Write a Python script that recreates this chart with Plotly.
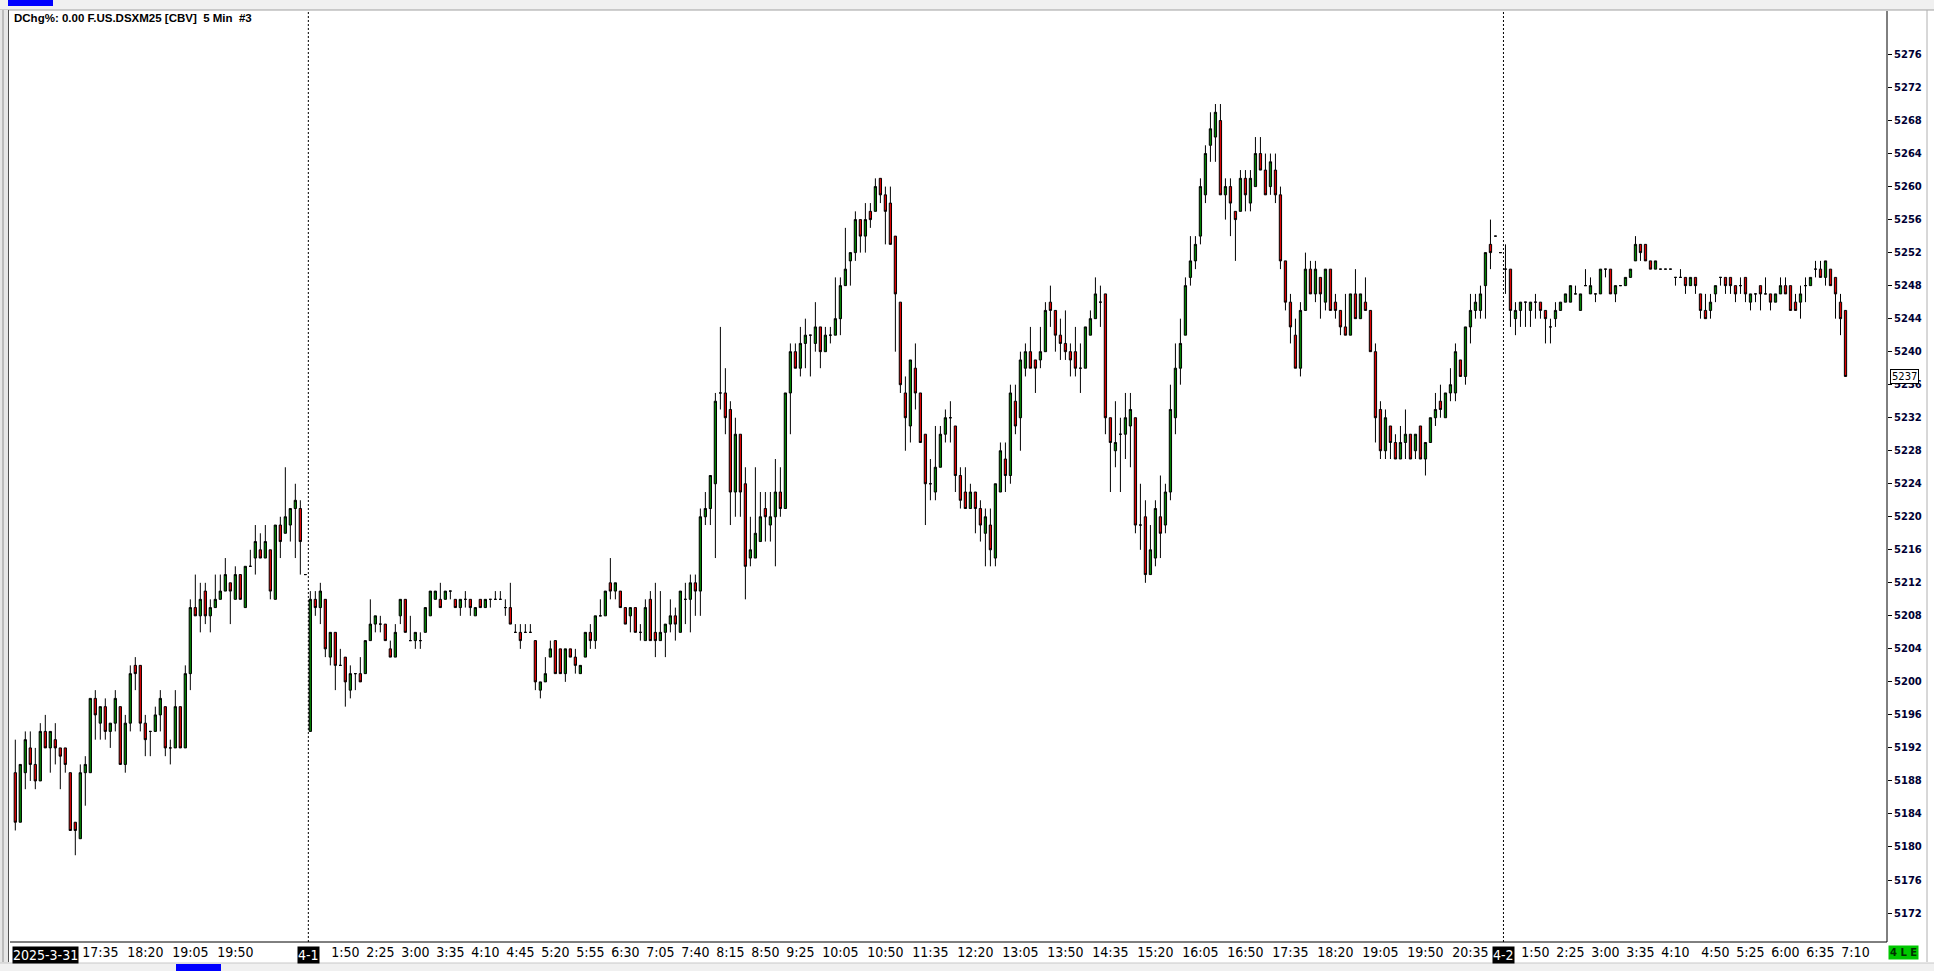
import plotly.graph_objects as go

# ---------------- data (5-min bars, F.US.DSXM25) ----------------
opens = [
 5189,5183,5189,5192,5190,5188,5194,5192,5193,5192,5192,5189,5183,5181,5189,5189,5198,5195,5197,5194,
 5195,5197,5190,5195,5202,5202,5195,5194,5194,5196,5197,5192,5192,5197,5192,5201,5209,5208,5211,5208,
 5209,5210,5211,5212,5210,5213,5209,5214,5215,5216,5215,5216,5210,5219,5218,5219,5221,5221,5213,
 # 4-1
 5194,5210,5209,5210,5203,5206,5202,5203,5199,5201,5201,5201,5205,5207,5207,5207,5204,5203,5208,5210,
 5205,5205,5205,5206,5208,5210,5210,5210,5211,5210,5209,5210,5210,5208,5210,5209,5210,5210,5210,5209,
 5209,5206,5206,5206,5206,5205,5199,5200,5203,5205,5204,5201,5204,5203,5201,5203,5206,5205,5208,5208,
 5212,5211,5211,5209,5208,5209,5206,5205,5210,5206,5205,5206,5207,5208,5206,5210,5210,5212,5211,5220,
 5221,5224,5235,5235,5233,5223,5230,5224,5215,5215,5217,5221,5219,5220,5223,5221,5235,5240,5238,5241,
 5242,5241,5243,5240,5242,5242,5244,5248,5251,5252,5256,5254,5257,5257,5261,5259,5258,5254,5246,5235,
 5231,5238,5235,5230,5224,5223,5226,5230,5232,5231,5225,5223,5221,5223,5221,5218,5219,5215,5223,5227,
 5225,5234,5232,5238,5240,5239,5239,5240,5246,5245,5242,5241,5240,5240,5238,5238,5242,5244,5246,5247,
 5232,5228,5230,5230,5231,5232,5219,5220,5213,5215,5220,5219,5223,5232,5238,5242,5249,5251,5254,5259,
 5265,5266,5268,5259,5260,5257,5257,5261,5258,5260,5264,5262,5260,5262,5259,5251,5246,5242,5238,5245,
 5250,5247,5249,5246,5250,5246,5245,5243,5242,5247,5244,5246,5245,5240,5233,5228,5231,5229,5227,5229,
 5230,5228,5231,5227,5229,5232,5234,5232,5235,5235,5239,5237,5243,5245,5245,5248,5253,5254,5252,
 # 4-2
 5250,5250,5244,5245,5246,5245,5246,5246,5245,5243,5244,5245,5246,5246,5247,5245,5248,5247,5247,5247,
 5250,5250,5247,5248,5248,5249,5251,5253,5253,5251,5250,5250,5250,5250,5249,5249,5249,5248,5249,5247,
 5245,5245,5247,5249,5249,5249,5248,5248,5249,5246,5247,5248,5247,5247,5246,5247,5248,5248,5246,5246,
 5248,5248,5250,5250,5249,5250,5249,5246,5245,
]
highs = [
 5193,5190,5194,5194,5192,5195,5196,5194,5195,5192,5192,5189,5183,5190,5191,5198,5199,5197,5198,5195,
 5199,5197,5196,5202,5203,5202,5196,5194,5197,5199,5197,5193,5199,5197,5202,5210,5213,5212,5212,5210,
 5213,5213,5215,5212,5214,5213,5214,5216,5219,5218,5219,5216,5219,5220,5226,5221,5224,5222,5213,
 # 4-1
 5211,5211,5212,5210,5206,5206,5204,5203,5202,5201,5203,5205,5210,5208,5208,5207,5205,5207,5210,5210,
 5208,5206,5206,5209,5211,5211,5212,5211,5211,5210,5210,5211,5210,5209,5210,5210,5210,5211,5211,5210,
 5212,5207,5207,5207,5207,5205,5200,5203,5205,5205,5204,5204,5204,5204,5202,5206,5207,5208,5210,5211,
 5215,5212,5211,5209,5209,5209,5207,5210,5211,5212,5211,5207,5210,5209,5211,5212,5213,5213,5221,5223,
 5225,5235,5243,5238,5234,5232,5230,5226,5220,5226,5223,5223,5223,5227,5226,5235,5241,5241,5243,5244,
 5242,5246,5243,5243,5243,5249,5249,5255,5252,5257,5256,5258,5258,5261,5261,5260,5260,5254,5246,5237,
 5239,5241,5235,5230,5227,5231,5231,5233,5234,5231,5226,5226,5224,5223,5222,5221,5221,5224,5229,5229,
 5236,5236,5240,5241,5243,5239,5243,5246,5248,5245,5244,5245,5241,5243,5241,5243,5245,5249,5248,5247,
 5232,5234,5232,5235,5235,5232,5224,5222,5219,5222,5225,5224,5236,5241,5244,5249,5254,5254,5261,5265,
 5269,5270,5270,5261,5261,5257,5262,5262,5262,5266,5266,5264,5264,5264,5260,5251,5247,5244,5246,5252,
 5251,5251,5249,5250,5250,5247,5245,5247,5247,5250,5247,5249,5245,5241,5234,5233,5231,5230,5231,5233,
 5230,5230,5231,5229,5232,5235,5236,5235,5238,5241,5239,5243,5247,5247,5248,5252,5256,5254,5252,
 # 4-2
 5253,5250,5246,5246,5246,5246,5247,5246,5245,5244,5246,5246,5247,5248,5248,5247,5250,5249,5247,5250,
 5250,5250,5248,5248,5249,5250,5254,5253,5253,5251,5251,5250,5250,5250,5249,5250,5249,5249,5249,5247,
 5247,5247,5248,5249,5249,5249,5248,5249,5249,5247,5247,5248,5249,5247,5247,5249,5249,5248,5247,5248,
 5249,5249,5251,5251,5251,5250,5249,5247,5245,
]
lows = [
 5182,5183,5187,5188,5187,5188,5192,5189,5190,5187,5189,5182,5179,5181,5185,5189,5193,5193,5193,5192,
 5194,5190,5189,5194,5199,5194,5191,5191,5194,5194,5191,5190,5192,5192,5192,5199,5208,5206,5207,5206,
 5209,5210,5211,5207,5210,5210,5209,5214,5213,5215,5215,5210,5210,5215,5218,5217,5215,5213,5213,
 # 4-1
 5194,5208,5207,5203,5202,5199,5202,5197,5198,5199,5200,5201,5205,5206,5206,5205,5203,5203,5207,5206,
 5205,5204,5204,5206,5208,5210,5209,5210,5210,5209,5208,5209,5208,5208,5209,5209,5209,5210,5210,5208,
 5207,5206,5204,5206,5206,5199,5198,5200,5203,5201,5201,5200,5203,5201,5201,5203,5204,5204,5208,5208,
 5210,5210,5209,5207,5206,5206,5205,5205,5205,5203,5205,5203,5206,5205,5206,5207,5206,5208,5208,5219,
 5219,5215,5233,5230,5219,5220,5220,5210,5214,5215,5217,5217,5217,5214,5220,5221,5230,5238,5237,5238,
 5237,5240,5238,5240,5241,5242,5242,5248,5248,5251,5252,5252,5255,5257,5258,5253,5253,5240,5235,5228,
 5229,5233,5229,5219,5222,5222,5226,5229,5229,5223,5221,5221,5221,5218,5217,5214,5214,5214,5223,5223,
 5224,5230,5228,5237,5238,5235,5238,5240,5243,5240,5239,5239,5237,5237,5235,5238,5242,5244,5243,5230,
 5223,5226,5223,5227,5226,5218,5216,5212,5213,5214,5215,5218,5222,5230,5236,5242,5248,5250,5253,5258,
 5263,5263,5259,5256,5254,5251,5257,5257,5257,5260,5262,5259,5259,5258,5250,5245,5241,5238,5237,5245,
 5247,5246,5244,5245,5245,5244,5242,5242,5242,5244,5244,5245,5240,5229,5227,5227,5227,5227,5227,5227,
 5227,5227,5227,5225,5229,5231,5232,5232,5234,5234,5237,5236,5241,5244,5244,5244,5250,5254,5252,
 # 4-2
 5247,5243,5242,5243,5243,5243,5244,5244,5241,5241,5243,5245,5246,5246,5247,5245,5248,5247,5246,5247,
 5249,5247,5246,5248,5248,5249,5251,5251,5251,5250,5250,5250,5250,5250,5248,5249,5247,5248,5247,5244,
 5244,5244,5246,5248,5247,5247,5246,5247,5246,5245,5246,5245,5247,5245,5246,5247,5247,5245,5245,5244,
 5246,5248,5249,5249,5248,5248,5244,5242,5237,
]
closes = [
 5183,5190,5193,5190,5188,5194,5192,5194,5192,5191,5190,5182,5182,5189,5190,5198,5196,5197,5194,5195,
 5198,5190,5195,5201,5201,5195,5193,5194,5196,5198,5192,5192,5197,5192,5201,5209,5208,5210,5208,5209,
 5210,5211,5213,5211,5213,5210,5214,5214,5217,5215,5217,5211,5219,5217,5220,5221,5222,5217,5213,
 # 4-1
 5210,5209,5211,5204,5206,5202,5202,5200,5201,5201,5200,5205,5207,5208,5207,5205,5203,5206,5210,5206,
 5205,5206,5205,5209,5211,5211,5209,5211,5211,5209,5210,5210,5209,5209,5209,5210,5210,5210,5210,5209,
 5207,5206,5205,5206,5206,5200,5200,5201,5204,5201,5201,5204,5203,5202,5202,5206,5205,5208,5208,5211,
 5211,5212,5209,5207,5209,5206,5206,5209,5205,5205,5206,5207,5208,5207,5211,5210,5212,5211,5220,5221,
 5225,5234,5235,5232,5223,5230,5223,5214,5216,5218,5220,5220,5220,5223,5221,5235,5240,5238,5241,5242,
 5242,5243,5240,5242,5242,5244,5248,5250,5252,5256,5254,5256,5256,5260,5259,5257,5253,5247,5236,5232,
 5239,5235,5229,5224,5224,5226,5230,5232,5232,5225,5222,5221,5223,5221,5219,5220,5216,5224,5228,5225,
 5235,5231,5239,5240,5238,5238,5240,5245,5245,5242,5241,5240,5239,5238,5238,5243,5244,5247,5246,5232,
 5229,5229,5230,5232,5233,5219,5219,5213,5216,5221,5218,5223,5233,5238,5241,5248,5251,5253,5260,5264,
 5267,5269,5259,5260,5258,5256,5261,5259,5261,5264,5262,5259,5263,5259,5251,5246,5243,5238,5245,5250,
 5247,5250,5247,5250,5245,5245,5243,5242,5247,5244,5247,5245,5240,5232,5228,5232,5229,5227,5229,5230,
 5227,5230,5227,5229,5232,5233,5233,5235,5236,5240,5237,5243,5245,5246,5247,5252,5252,5254,5252,
 # 4-2
 5250,5245,5245,5246,5246,5246,5246,5245,5244,5243,5245,5246,5247,5248,5247,5247,5248,5248,5247,5250,
 5250,5247,5248,5248,5249,5250,5253,5252,5251,5250,5251,5250,5250,5250,5249,5249,5248,5249,5248,5245,
 5244,5246,5248,5249,5248,5248,5247,5248,5247,5247,5247,5247,5247,5246,5247,5248,5247,5245,5245,5247,
 5248,5249,5250,5249,5251,5248,5247,5244,5237,
]
bar_index = list(range(len(opens)))

# time-axis labels (bar number -> label)
tick_bars = [17, 26, 35, 44,
             66, 73, 80, 87, 94, 101, 108, 115, 122, 129, 136, 143, 150, 157, 165, 174, 183,
             192, 201, 210, 219, 228, 237, 246, 255, 264, 273, 282, 291,
             304, 311, 318, 325, 332, 340, 347, 354, 361, 368]
tick_labels = ["17:35", "18:20", "19:05", "19:50",
               "1:50", "2:25", "3:00", "3:35", "4:10", "4:45", "5:20", "5:55", "6:30", "7:05", "7:40",
               "8:15", "8:50", "9:25", "10:05", "10:50", "11:35",
               "12:20", "13:05", "13:50", "14:35", "15:20", "16:05", "16:50", "17:35", "18:20", "19:05",
               "19:50", "20:35",
               "1:50", "2:25", "3:00", "3:35", "4:10", "4:50", "5:25", "6:00", "6:35", "7:10"]

first_date = "2025-3-31"
session_breaks = [58.6, 297.6]
session_dates = ["4-1", "4-2"]

price_ticks = list(range(5172, 5277, 4))
last_price = closes[-1]
title_text = "DChg%: 0.00 F.US.DSXM25 [CBV]  5 Min  #3"

# ---------------- figure ----------------
W, H = 1934, 971
ML, MR, MT, MB = 10, 47, 11, 29
PW, PH = W - ML - MR, H - MT - MB

def px(xp):  # pixel x -> paper
    return (xp - ML) / PW

def py(yp):  # pixel y -> paper
    return (H - MB - yp) / PH

narrow = "Liberation Sans Narrow, DejaVu Sans Condensed, Arial Narrow, sans-serif"

fig = go.Figure()
fig.add_trace(go.Candlestick(
    x=bar_index, open=opens, high=highs, low=lows, close=closes,
    increasing=dict(line=dict(color="black", width=1), fillcolor="#008000"),
    decreasing=dict(line=dict(color="black", width=1), fillcolor="#dd0000"),
    whiskerwidth=0, hoverinfo="x+y", showlegend=False,
))

shapes = []
for xb in session_breaks:
    shapes.append(dict(type="line", xref="x", yref="paper", x0=xb, x1=xb, y0=0, y1=1,
                       line=dict(color="black", width=1, dash="2px,2px")))
# window chrome
chrome_gray = "#f0f0f0"
shapes += [
    dict(type="rect", xref="paper", yref="paper", x0=px(0), x1=px(W), y0=py(0), y1=py(10),
         fillcolor=chrome_gray, line=dict(width=0), layer="below"),
    dict(type="line", xref="paper", yref="paper", x0=px(0), x1=px(W), y0=py(10), y1=py(10),
         line=dict(color="#a0a0a0", width=1)),
    dict(type="rect", xref="paper", yref="paper", x0=px(8), x1=px(53), y0=py(0), y1=py(6),
         fillcolor="#0000ff", line=dict(width=0)),
    dict(type="rect", xref="paper", yref="paper", x0=px(0), x1=px(9), y0=py(10), y1=py(H),
         fillcolor="#e6e6e6", line=dict(width=0)),
    dict(type="line", xref="paper", yref="paper", x0=px(3), x1=px(3), y0=py(10), y1=py(962),
         line=dict(color="#909090", width=1)),
    dict(type="line", xref="paper", yref="paper", x0=px(8.5), x1=px(8.5), y0=py(10), y1=py(962),
         line=dict(color="#505050", width=1)),
    dict(type="rect", xref="paper", yref="paper", x0=px(0), x1=px(W), y0=py(963), y1=py(H),
         fillcolor=chrome_gray, line=dict(width=0)),
    dict(type="line", xref="paper", yref="paper", x0=px(0), x1=px(W), y0=py(963), y1=py(963),
         line=dict(color="#c8c8c8", width=1)),
    dict(type="rect", xref="paper", yref="paper", x0=px(176), x1=px(221), y0=py(964), y1=py(H),
         fillcolor="#0000ff", line=dict(width=0)),
    dict(type="line", xref="paper", yref="paper", x0=px(1927), x1=px(1927), y0=py(10), y1=py(962),
         line=dict(color="#b0b0b0", width=1)),
    dict(type="line", xref="paper", yref="paper", x0=1, x1=1, y0=0, y1=1,
         line=dict(color="black", width=1)),
    dict(type="line", xref="paper", yref="paper", x0=0, x1=1, y0=0, y1=0,
         line=dict(color="black", width=1)),
]

annotations = [
    dict(text=title_text, xref="paper", yref="paper", x=px(12), y=py(10), xanchor="left",
         yanchor="top", showarrow=False,
         font=dict(family="Liberation Sans, Arial, sans-serif", size=11.5, color="black", weight="bold")),
    dict(text=first_date, xref="paper", yref="paper", x=px(12), y=py(946), xanchor="left",
         yanchor="top", showarrow=False, bgcolor="black", borderpad=0,
         font=dict(family=narrow, size=14, color="white")),
    dict(text=str(last_price), xref="paper", yref="y", x=px(1890), y=last_price, xanchor="left",
         yanchor="middle", showarrow=False, bgcolor="white", bordercolor="black", borderwidth=1,
         borderpad=1, font=dict(family="DejaVu Sans, sans-serif", size=10, color="black")),
    dict(text="4 L E", xref="paper", yref="paper", x=px(1888), y=py(945), xanchor="left",
         yanchor="top", showarrow=False, bgcolor="#00c800", borderpad=1,
         font=dict(family="DejaVu Sans, sans-serif", size=10, color="#003000", weight="bold")),
]
for xb, lab in zip(session_breaks, session_dates):
    annotations.append(dict(text=lab, xref="x", yref="paper", x=xb, y=py(946), xanchor="center",
                            yanchor="top", showarrow=False, bgcolor="black", borderpad=0,
                            font=dict(family=narrow, size=14, color="white")))

fig.update_layout(
    width=W, height=H,
    margin=dict(l=ML, r=MR, t=MT, b=MB, pad=0),
    paper_bgcolor="white", plot_bgcolor="white",
    boxgap=0.35,
    showlegend=False,
    xaxis=dict(range=[-1.06, 374.3], rangeslider=dict(visible=False), showgrid=False,
               zeroline=False, tickmode="array", tickvals=tick_bars, ticktext=tick_labels,
               ticks="", tickfont=dict(family=narrow, size=14, color="black"),
               showline=False, fixedrange=True),
    yaxis=dict(side="right", range=[5168.49, 5281.27], showgrid=False, zeroline=False,
               tickmode="array", tickvals=price_ticks, ticktext=[str(v) for v in price_ticks],
               ticks="outside", ticklen=4, tickcolor="black", tickwidth=1,
               tickfont=dict(family="DejaVu Sans, sans-serif", size=10, color="#000033", weight="bold"),
               showline=False, fixedrange=True),
    shapes=shapes,
    annotations=annotations,
)

fig.write_html("out.html", config={"displayModeBar": False},
               post_script="document.body.style.margin='0px';document.body.style.overflow='hidden';")
